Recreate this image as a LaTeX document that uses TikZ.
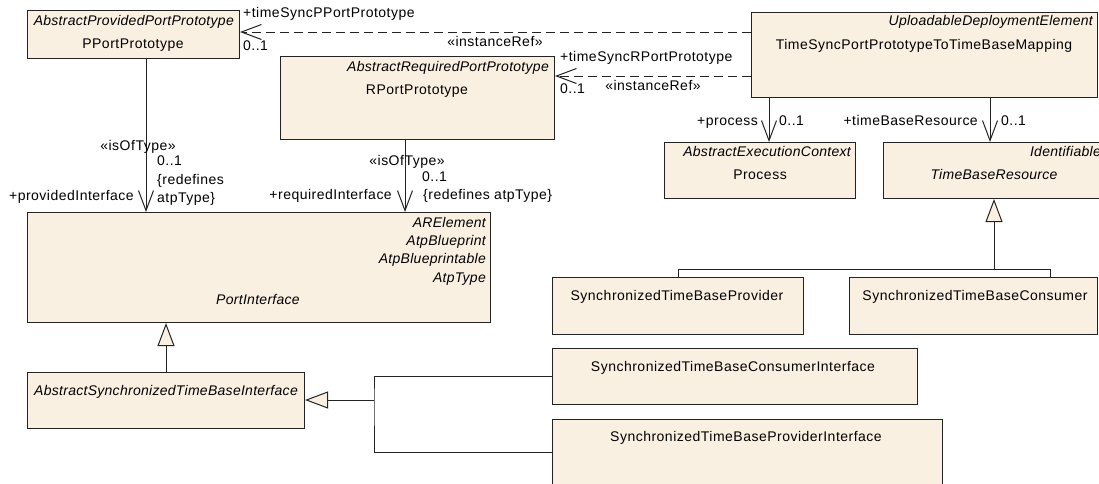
\documentclass[tikz,border=0pt]{standalone}
\usepackage{fontspec}
\setmainfont{Liberation Sans}[LetterSpace=3.5]
\usetikzlibrary{arrows.meta}
\definecolor{boxfill}{RGB}{250,240,226}
\definecolor{linec}{RGB}{35,35,35}
\begin{document}
\begin{tikzpicture}[x=1pt,y=-1pt,
  cls/.style={draw=linec, fill=boxfill, line width=1pt, rectangle, inner sep=0pt, anchor=north west},
  txt/.style={font=\fontsize{14}{16}\selectfont, inner sep=0pt, text=black},
  itx/.style={font=\fontsize{14}{16}\selectfont\itshape\addfontfeatures{LetterSpace=2}, inner sep=0pt, text=black},
  assoc/.style={draw=linec, line width=1pt, -{Straight Barb[length=20pt,width=15pt,line width=1pt]}},
  dassoc/.style={assoc, dash pattern=on 9pt off 5pt},
  gen/.style={draw=linec, line width=1pt, -{Triangle[length=23pt,width=17pt,fill=boxfill,line width=1pt]}},
  plain/.style={draw=linec, line width=1pt}
]
\useasboundingbox (0,0) rectangle (1099,483);
\clip (0,0) rectangle (1099,483);

% ---------- boxes ----------
\node[cls, minimum width=212pt, minimum height=48pt] (pp) at (27,10) {};
\node[itx, anchor=mid east] (ppst) at (234,23) {AbstractProvidedPortPrototype};
\node[txt, anchor=mid] (ppn) at (133,46) {PPortPrototype};

\node[cls, minimum width=274pt, minimum height=83pt] (rp) at (280,56) {};
\node[itx, anchor=mid east] (rpst) at (549,69) {AbstractRequiredPortPrototype};
\node[txt, anchor=mid] (rpn) at (417,92) {RPortPrototype};

\node[cls, minimum width=346pt, minimum height=85pt] (ts) at (751,12) {};
\node[itx, anchor=mid east] (tsst) at (1093,23) {UploadableDeploymentElement};
\node[txt, anchor=mid] (tsn) at (924,47) {TimeSyncPortPrototypeToTimeBaseMapping};

\node[cls, minimum width=191pt, minimum height=56pt] (proc) at (664,142) {};
\node[itx, anchor=mid east] (procst) at (851,154) {AbstractExecutionContext};
\node[txt, anchor=mid] (procn) at (760,177) {Process};

\node[cls, minimum width=230pt, minimum height=56pt] (tbr) at (883,142) {};
\node[itx, anchor=mid east] (tbrst) at (1101,154) {Identifiable};
\node[itx, anchor=mid] (tbrn) at (994,177) {TimeBaseResource};

\node[cls, minimum width=463pt, minimum height=110pt] (pi) at (27,212) {};
\node[itx, anchor=mid east] (pi1) at (486,225) {ARElement};
\node[itx, anchor=mid east] (pi2) at (486,243) {AtpBlueprint};
\node[itx, anchor=mid east] (pi3) at (486,261) {AtpBlueprintable};
\node[itx, anchor=mid east] (pi4) at (486,280) {AtpType};
\node[itx, anchor=mid] (pin) at (258,302) {PortInterface};

\node[cls, minimum width=277pt, minimum height=56pt] (astbi) at (27,372) {};
\node[itx, anchor=mid] (astbin) at (166,393) {AbstractSynchronizedTimeBaseInterface};

\node[cls, minimum width=251pt, minimum height=57pt] (stbp) at (552,277) {};
\node[txt, anchor=mid] (stbpn) at (677,298) {SynchronizedTimeBaseProvider};

\node[cls, minimum width=248pt, minimum height=57pt] (stbc) at (849,277) {};
\node[txt, anchor=mid] (stbcn) at (975,298) {SynchronizedTimeBaseConsumer};

\node[cls, minimum width=365pt, minimum height=56pt] (stbci) at (552,348) {};
\node[txt, anchor=mid] (stbcin) at (733,369) {SynchronizedTimeBaseConsumerInterface};

\node[cls, minimum width=390pt, minimum height=66pt] (stbpi) at (552,419) {};
\node[txt, anchor=mid] (stbpin) at (746,439) {SynchronizedTimeBaseProviderInterface};

% ---------- connectors ----------
\coordinate (d1) at ([yshift=-20pt]ts.north west);
\coordinate (d2) at ([yshift=-64pt]ts.north west);
\draw[dassoc] (d1) -- (d1 -| pp.east);
\draw[dassoc] (d2) -- (d2 -| rp.east);
\node[txt, anchor=mid west] at (243,15) {+timeSyncPPortPrototype};
\node[txt, anchor=mid west] at (243,48) {0..1};
\node[txt, anchor=mid] at (495,44) {«instanceRef»};
\node[txt, anchor=mid west] at (560,59) {+timeSyncRPortPrototype};
\node[txt, anchor=mid west] at (560,91) {0..1};
\node[txt, anchor=mid] at (653,88) {«instanceRef»};

\coordinate (v1) at (146,0);
\coordinate (v2) at (405,0);
\draw[assoc] (v1 |- pp.south) -- (v1 |- pi.north);
\draw[assoc] (v2 |- rp.south) -- (v2 |- pi.north);
\node[txt, anchor=mid] at (138,148) {«isOfType»};
\node[txt, anchor=mid west] at (157,163) {0..1};
\node[txt, anchor=mid west] at (157,182) {\{redefines};
\node[txt, anchor=mid west] at (157,200) {atpType\}};
\node[txt, anchor=mid east] at (134,198) {+providedInterface};
\node[txt, anchor=mid] at (407,163) {«isOfType»};
\node[txt, anchor=mid west] at (422,179) {0..1};
\node[txt, anchor=mid west] at (423,197) {\{redefines atpType\}};
\node[txt, anchor=mid east] at (392,197) {+requiredInterface};

\coordinate (v3) at (769,0);
\coordinate (v4) at (990,0);
\draw[assoc] (v3 |- ts.south) -- (v3 |- proc.north);
\draw[assoc] (v4 |- ts.south) -- (v4 |- tbr.north);
\node[txt, anchor=mid east] at (758,123) {+process};
\node[txt, anchor=mid west] at (779,123) {0..1};
\node[txt, anchor=mid east] at (978,123) {+timeBaseResource};
\node[txt, anchor=mid west] at (1001,123) {0..1};

% generalization to TimeBaseResource
\coordinate (g1) at (994,269);
\coordinate (g2) at (1050,269);
\draw[plain] (stbp.north) |- (g2) -- (g2 |- stbc.north);
\draw[gen] (g1) -- (g1 |- tbr.south);

% generalization to PortInterface
\draw[gen] (astbi.north) -- (astbi.north |- pi.south);

% generalization to AbstractSynchronizedTimeBaseInterface
\coordinate (h) at (374,400);
\draw[plain] (stbci.west) -| (h) |- (stbpi.west);
\draw[gen] (h) -- (h -| astbi.east);
\end{tikzpicture}
\end{document}
